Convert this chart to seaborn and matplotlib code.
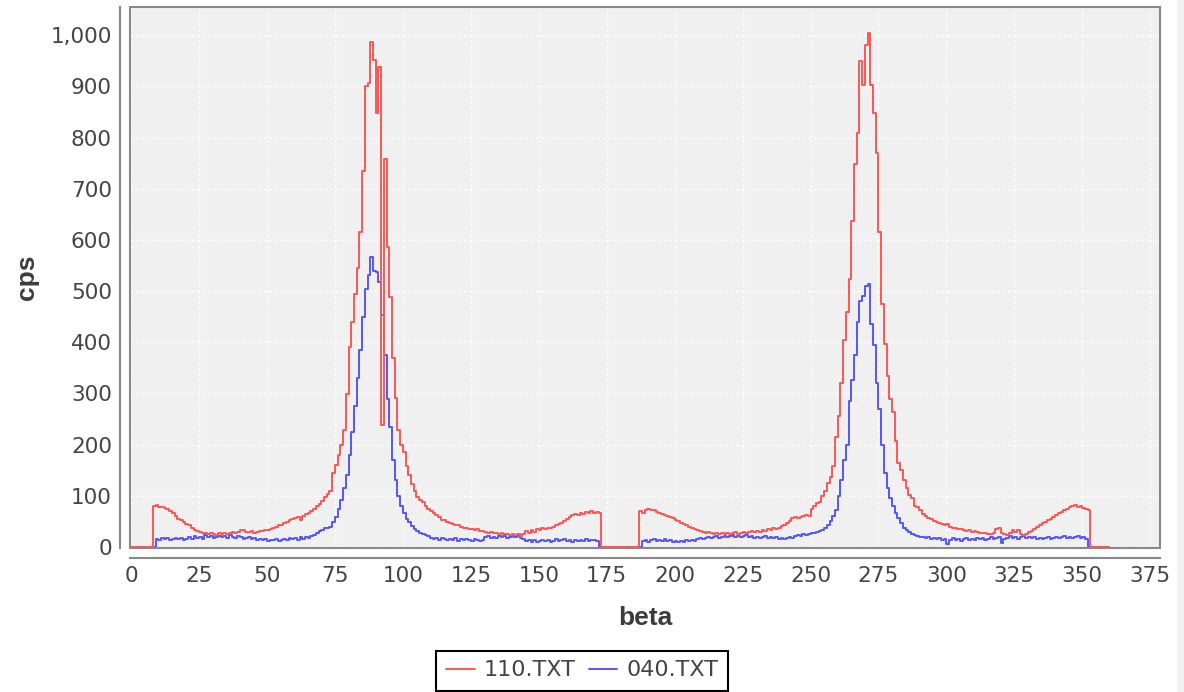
import numpy as np
import pandas as pd
import matplotlib
matplotlib.use("Agg")
import matplotlib.pyplot as plt
from matplotlib.lines import Line2D
from matplotlib.patches import Rectangle
from matplotlib.ticker import FuncFormatter
import seaborn as sns

# cps per 1 degree of beta (beta = 0..360)
red_110 = [
    0, 0, 0, 0, 0, 0, 0, 0, 80, 82,
    79, 78, 76, 74, 70, 66, 60, 55, 52, 48,
    44, 42, 38, 34, 31, 29, 28, 27, 25, 27,
    26, 24, 27, 26, 28, 25, 27, 29, 28, 30,
    33, 34, 30, 29, 31, 28, 30, 32, 31, 33,
    34, 36, 38, 40, 42, 43, 46, 48, 52, 55,
    56, 58, 53, 60, 64, 67, 70, 75, 80, 84,
    90, 98, 104, 109, 144, 160, 179, 200, 228, 299,
    390, 439, 495, 545, 615, 734, 900, 906, 987, 952,
    848, 938, 239, 759, 587, 488, 369, 292, 228, 200,
    185, 158, 140, 123, 110, 98, 92, 88, 80, 74,
    70, 67, 62, 58, 53, 52, 48, 46, 44, 42,
    43, 40, 38, 37, 35, 36, 33, 35, 32, 31,
    30, 28, 30, 27, 28, 26, 27, 25, 26, 24,
    26, 23, 25, 22, 26, 31, 27, 34, 30, 35,
    33, 37, 35, 38, 37, 40, 42, 44, 47, 50,
    55, 58, 62, 64, 63, 66, 64, 68, 66, 70,
    67, 69, 66, 0, 0, 0, 0, 0, 0, 0,
    0, 0, 0, 0, 0, 0, 0, 70, 66, 72,
    74, 72, 73, 68, 67, 64, 63, 60, 58, 56,
    52, 50, 46, 44, 42, 40, 38, 35, 34, 31,
    30, 28, 29, 27, 26, 28, 25, 27, 26, 28,
    25, 27, 29, 26, 28, 30, 27, 29, 31, 30,
    32, 30, 33, 32, 35, 34, 37, 36, 38, 41,
    43, 47, 50, 56, 58, 57, 59, 60, 62, 60,
    75, 81, 85, 88, 100, 109, 125, 137, 158, 214,
    256, 320, 404, 460, 524, 636, 748, 808, 949, 903,
    980, 1005, 903, 847, 769, 615, 474, 397, 334, 290,
    264, 207, 165, 150, 130, 115, 102, 95, 81, 78,
    72, 65, 60, 57, 54, 50, 48, 46, 44, 42,
    45, 40, 37, 38, 35, 36, 33, 32, 33, 30,
    31, 29, 28, 27, 28, 26, 25, 27, 36, 37,
    28, 26, 24, 28, 34, 30, 33, 26, 24, 25,
    29, 32, 35, 40, 42, 46, 48, 52, 55, 58,
    62, 66, 69, 72, 75, 78, 80, 82, 78, 81,
    76, 74, 72, 0, 0, 0, 0, 0, 0, 0,
    0,
]

blue_040 = [
    0, 0, 0, 0, 0, 0, 0, 0, 0, 16,
    14, 18, 15, 17, 13, 16, 18, 15, 17, 14,
    16, 19, 15, 22, 18, 20, 16, 23, 19, 21,
    18, 20, 22, 19, 21, 18, 24, 20, 17, 21,
    19, 16, 18, 20, 15, 17, 14, 16, 13, 15,
    12, 14, 13, 15, 12, 14, 16, 13, 18, 15,
    17, 14, 19, 16, 20, 18, 22, 24, 28, 32,
    34, 37, 38, 40, 48, 58, 75, 92, 115, 140,
    180, 225, 275, 330, 385, 450, 505, 531, 566, 540,
    538, 517, 453, 376, 290, 235, 170, 130, 100, 80,
    66, 55, 48, 41, 36, 32, 28, 25, 23, 21,
    18, 16, 18, 14, 17, 15, 13, 16, 14, 17,
    12, 15, 13, 16, 14, 12, 15, 13, 11, 14,
    19, 21, 18, 20, 17, 21, 19, 22, 18, 20,
    23, 19, 21, 17, 15, 12, 14, 9, 13, 10,
    12, 14, 11, 13, 10, 12, 15, 11, 13, 16,
    12, 14, 10, 13, 11, 14, 12, 15, 12, 14,
    13, 12, 0, 0, 0, 0, 0, 0, 0, 0,
    0, 0, 0, 0, 0, 0, 0, 0, 12, 14,
    10, 13, 15, 11, 14, 12, 16, 11, 13, 10,
    12, 9, 12, 10, 13, 11, 14, 12, 15, 17,
    16, 18, 20, 17, 19, 21, 18, 20, 22, 19,
    21, 23, 20, 22, 19, 21, 24, 20, 22, 18,
    20, 17, 19, 21, 18, 20, 17, 19, 16, 18,
    15, 17, 20, 18, 21, 24, 22, 26, 23, 25,
    28, 27, 30, 31, 34, 38, 43, 50, 60, 72,
    100, 130, 170, 200, 285, 327, 376, 439, 481, 490,
    509, 513, 436, 394, 320, 270, 200, 144, 115, 95,
    80, 67, 56, 46, 38, 33, 29, 25, 23, 21,
    19, 20, 17, 19, 16, 18, 15, 17, 14, 16,
    6, 14, 17, 13, 16, 12, 15, 18, 14, 16,
    13, 17, 15, 18, 14, 16, 19, 15, 17, 20,
    8, 16, 18, 21, 17, 19, 16, 20, 22, 18,
    20, 17, 19, 16, 18, 15, 17, 19, 16, 18,
    20, 17, 19, 22, 18, 20, 17, 19, 22, 18,
    20, 16, 0, 0, 0, 0, 0, 0, 0, 0,
    0,
]

series_names = ["110.TXT", "040.TXT"]
series_colors = {"110.TXT": "#ff5555", "040.TXT": "#5555ff"}
x_ticks = list(range(0, 376, 25))
y_ticks = list(range(0, 1001, 100))

beta = np.arange(len(red_110))
df = pd.concat([
    pd.DataFrame({"beta": beta, "cps": red_110, "file": "110.TXT"}),
    pd.DataFrame({"beta": beta, "cps": blue_040, "file": "040.TXT"}),
])

sns.set_style("white")
plt.rcParams["font.family"] = ["DejaVu Sans"]

fig = plt.figure(figsize=(11.84, 6.92), dpi=100)
ax = fig.add_axes([130 / 1184, 144 / 692, 1030 / 1184, 541 / 692])
ax.set_facecolor("#f0f0f0")

# blue first so the red series sits on top
for name in ["040.TXT", "110.TXT"]:
    sns.lineplot(data=df[df["file"] == name], x="beta", y="cps",
                 color=series_colors[name], drawstyle="steps-post",
                 linewidth=1.4, estimator=None, sort=False,
                 legend=False, ax=ax)

ax.set_xlim(-0.4, 378.6)
ax.set_ylim(-2, 1055)
ax.set_xticks(x_ticks)
ax.set_yticks(y_ticks)
ax.yaxis.set_major_formatter(FuncFormatter(lambda v, p: f"{v:,.0f}"))
ax.grid(True, color="white", linewidth=1, linestyle=(0, (2, 2)))

for s in ["top", "right"]:
    ax.spines[s].set_visible(False)
for s in ["left", "bottom"]:
    ax.spines[s].set_position(("outward", 7))
    ax.spines[s].set_color("#888888")
    ax.spines[s].set_linewidth(1.5)
ax.add_patch(Rectangle((0, 0), 1, 1, transform=ax.transAxes, fill=False,
                       edgecolor="#888888", linewidth=1.5, zorder=5, clip_on=False))

ax.tick_params(direction="out", length=3, width=1, color="#888888",
               labelsize=15.5, labelcolor="#444444", pad=3)

ax.set_xlabel("beta", fontsize=19, fontweight="bold", family="Liberation Sans", color="#3c3c3c")
ax.set_ylabel("cps", fontsize=19, fontweight="bold", family="Liberation Sans", color="#3c3c3c")
ax.xaxis.label.set_va("center")
ax.xaxis.set_label_coords(0.5, (548 - 618) / 541)
ax.yaxis.label.set_va("center")
ax.yaxis.set_label_coords((27 - 130) / 1030, 0.5)

handles = [Line2D([], [], color=series_colors[n], linewidth=1.4) for n in series_names]
leg = fig.legend(handles, series_names, loc="center",
                 bbox_to_anchor=(582 / 1184, 1 - 670.5 / 692), ncol=2,
                 frameon=True, fancybox=False, edgecolor="black", framealpha=1,
                 fontsize=16, handlelength=1.3, handletextpad=0.4,
                 columnspacing=0.6, borderpad=0.45, borderaxespad=0)
leg.get_frame().set_linewidth(1.5)
for t in leg.get_texts():
    t.set_color("#444444")

# light window edge on the right
fig.patches.append(Rectangle((1177 / 1184, 0), 7 / 1184, 1, transform=fig.transFigure,
                             facecolor="#eef2f7", edgecolor="none"))

fig.savefig("out.png", dpi=100)
